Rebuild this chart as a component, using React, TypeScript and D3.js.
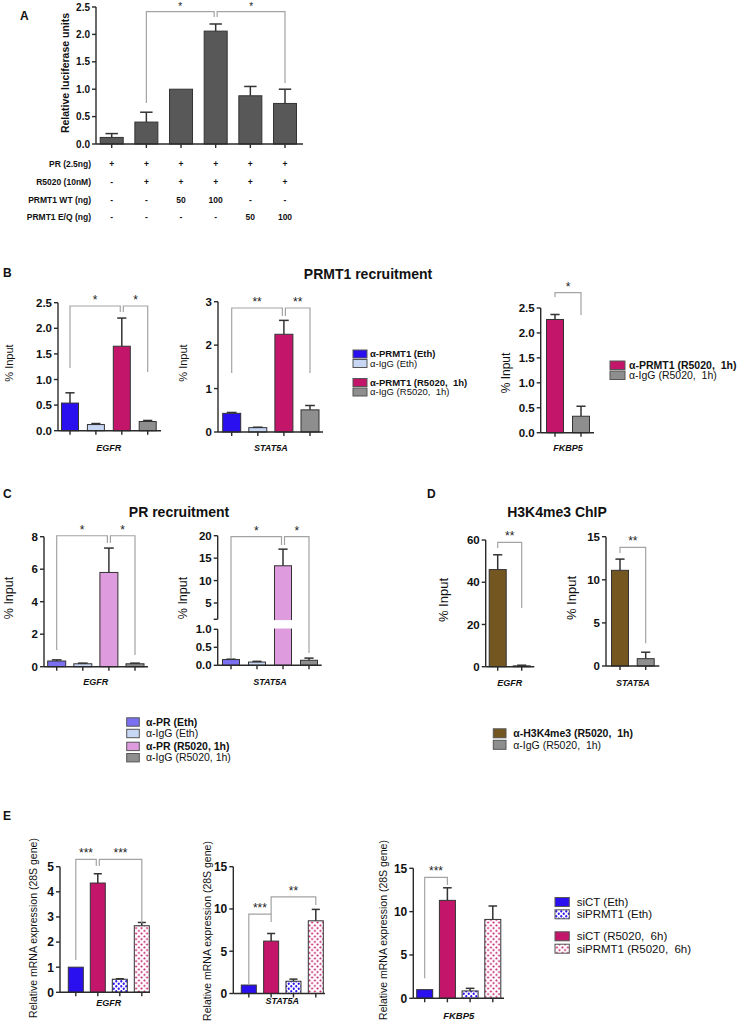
import React from "react";
import * as d3 from "d3";

const FONT = "'Liberation Sans', Arial, Helvetica, sans-serif";

// ---------------- colours ----------------
const BLUE = "#2B10EF";
const LIGHT_BLUE = "#C7D6F3";
const MAGENTA = "#C3166B";
const GRAY = "#8E8E8E";
const PURPLE = "#7B70F1";
const ORCHID = "#DE9BDE";
const BROWN = "#745620";
const DARK = "#585858";

// ---------------- Panel A ----------------
const aValues = [0.12, 0.4, 1.0, 2.06, 0.88, 0.74];
const aErrors = [0.19, 0.58, 1.0, 2.19, 1.05, 1.0];
const aTicks = [0, 0.5, 1, 1.5, 2, 2.5];
const aRowLabels = ["PR (2.5ng)", "R5020 (10nM)", "PRMT1 WT (ng)", "PRMT1 E/Q (ng)"];
const aRowPR = ["+", "+", "+", "+", "+", "+"];
const aRowR5020 = ["-", "+", "+", "+", "+", "+"];
const aRowWT = ["-", "-", "50", "100", "-", "-"];
const aRowEQ = ["-", "-", "-", "-", "50", "100"];
const aBrackets = [
  { a: 1, b: 3, y: 2.414, ya: 0.748, yb: 2.318, label: "*" },
  { a: 3, b: 5, y: 2.414, ya: 2.318, yb: 1.113, label: "*" },
];

// ---------------- Panel B ----------------
const bEgfrValues = [0.54, 0.12, 1.65, 0.18];
const bEgfrErrors = [0.74, 0.14, 2.2, 0.2];
const bEgfrTicks = [0, 0.5, 1, 1.5, 2, 2.5];
const bEgfrBrackets = [
  { a: 0, b: 2, y: 2.436, ya: 1.225, yb: 2.318, label: "*" },
  { a: 2, b: 3, y: 2.436, ya: 2.318, yb: 1.146, label: "*" },
];
const bStatValues = [0.43, 0.1, 2.25, 0.51];
const bStatErrors = [0.45, 0.11, 2.57, 0.61];
const bStatTicks = [0, 1, 2, 3];
const bStatBrackets = [
  { a: 0, b: 2, y: 2.855, ya: 1.358, yb: 2.671, label: "**" },
  { a: 2, b: 3, y: 2.855, ya: 2.671, yb: 1.358, label: "**" },
];
const bFkbValues = [2.27, 0.33];
const bFkbErrors = [2.37, 0.53];
const bFkbTicks = [0, 0.5, 1, 1.5, 2, 2.5];
const bFkbBrackets = [{ a: 0, b: 1, y: 2.807, ya: 2.72, yb: 2.36, label: "*" }];
const bLegend = ["α-PRMT1 (Eth)", "α-IgG (Eth)", "α-PRMT1 (R5020,  1h)", "α-IgG (R5020,  1h)"];
const bLegend2 = ["α-PRMT1 (R5020,  1h)", "α-IgG (R5020,  1h)"];

// ---------------- Panel C ----------------
const cEgfrValues = [0.35, 0.18, 5.8, 0.18];
const cEgfrErrors = [0.42, 0.22, 7.3, 0.22];
const cEgfrTicks = [0, 2, 4, 6, 8];
const cEgfrBrackets = [
  { a: 0, b: 2, y: 8.06, ya: 1.03, yb: 7.61, label: "*" },
  { a: 2, b: 3, y: 8.06, ya: 7.61, yb: 0.72, label: "*" },
];
const cStatValues = [0.16, 0.09, 13.3, 0.14];
const cStatErrors = [0.17, 0.11, 17.0, 0.2];
const cStatUpperTicks = [5, 10, 15, 20];
const cStatLowerTicks = [0, 0.5, 1.0];
const cStatBrackets = [
  { a: 0, b: 2, y: 19.78, ya: 0.2, yb: 17.93, label: "*" },
  { a: 2, b: 3, y: 19.78, ya: 17.93, yb: 0.34, label: "*" },
];
const cLegend = ["α-PR (Eth)", "α-IgG (Eth)", "α-PR (R5020, 1h)", "α-IgG (R5020, 1h)"];

// ---------------- Panel D ----------------
const dEgfrValues = [46, 0.4];
const dEgfrErrors = [53, 0.7];
const dEgfrTicks = [0, 20, 40, 60];
const dEgfrBrackets = [{ a: 0, b: 1, y: 58.9, ya: 56.2, yb: 27.8, label: "**" }];
const dStatValues = [11.1, 0.85];
const dStatErrors = [12.4, 1.6];
const dStatTicks = [0, 5, 10, 15];
const dStatBrackets = [{ a: 0, b: 1, y: 13.77, ya: 13.1, yb: 2.63, label: "**" }];
const dLegend = ["α-H3K4me3 (R5020,  1h)", "α-IgG (R5020,  1h)"];

// ---------------- Panel E ----------------
const eEgfrValues = [1.0, 4.35, 0.52, 2.65];
const eEgfrErrors = [1.0, 4.72, 0.54, 2.78];
const eEgfrTicks = [0, 1, 2, 3, 4, 5];
const eEgfrBrackets = [
  { a: 0, b: 1, y: 5.29, ya: 1.29, yb: 5.03, label: "***" },
  { a: 1, b: 3, y: 5.29, ya: 5.03, yb: 2.76, label: "***" },
];
const eStatValues = [1.0, 6.2, 1.45, 8.6];
const eStatErrors = [1.0, 7.1, 1.7, 9.95];
const eStatTicks = [0, 5, 10, 15];
const eStatBrackets = [
  { a: 0, b: 1, y: 9.4, ya: 1.0, yb: 8.46, label: "***" },
  { a: 1, b: 3, y: 11.42, ya: 9.4, yb: 10.47, label: "**" },
];
const eFkbValues = [1.0, 11.3, 0.85, 9.1];
const eFkbErrors = [1.0, 12.75, 1.15, 10.65];
const eFkbTicks = [0, 5, 10, 15];
const eFkbBrackets = [{ a: 0, b: 1, y: 13.96, ya: 2.31, yb: 13.07, label: "***" }];
const eLegend = ["siCT (Eth)", "siPRMT1 (Eth)", "siCT (R5020,  6h)", "siPRMT1 (R5020,  6h)"];

const ePatBlue = "url(#patBlue)";
const ePatMag = "url(#patMag)";

type Br = { a: number; b: number; y: number; ya: number; yb: number; label: string };

interface PanelProps {
  values: number[];
  errors: number[];
  fills: string[];
  centers: [number, number];
  barW: number;
  axisX: [number, number];
  yDomain: [number, number];
  yRange: [number, number];
  ticks: number[];
  fmt: string;
  tickSize: number;
  brackets: Br[];
  starSize: number;
  category?: string;
  catY?: number;
  catSize?: number;
  ylabel: string;
  ylabelX: number;
  ylabelY: number;
  ylabelSize: number;
  ylabelWeight?: string;
  broken?: {
    lowerDomain: [number, number];
    lowerRange: [number, number];
    lowerTicks: number[];
    lowerFmt: string;
  };
}

const AX = "#2a2a2a";
const BRK = "#a3a3a3";

function Panel(p: PanelProps) {
  const n = p.values.length;
  const x = d3.scalePoint<number>().domain(d3.range(n)).range(p.centers);
  const upper = d3.scaleLinear().domain(p.yDomain).range(p.yRange);
  const lower = p.broken
    ? d3.scaleLinear().domain(p.broken.lowerDomain).range(p.broken.lowerRange)
    : null;
  const y = (v: number) =>
    lower && v <= p.broken!.lowerDomain[1] ? lower(v) : upper(v);
  const y0 = y(0);
  const ax0 = p.axisX[0];
  const fmt = d3.format(p.fmt);
  const TL = 4;

  const shared = (br: Br, idx: number) =>
    p.brackets.some((o) => o !== br && o.y === br.y && (o.a === idx || o.b === idx));

  const renderYAxis = () => {
    if (p.broken && lower) {
      const lf = d3.format(p.broken.lowerFmt);
      return (
        <g>
          <line x1={ax0} x2={ax0} y1={upper.range()[0]} y2={upper.range()[1]} stroke={AX} strokeWidth={1.4} />
          <line x1={ax0 - TL} x2={ax0} y1={upper.range()[0]} y2={upper.range()[0]} stroke={AX} strokeWidth={1.4} />
          {p.ticks.map((t) => (
            <g key={"u" + t}>
              <line x1={ax0 - TL} x2={ax0} y1={upper(t)} y2={upper(t)} stroke={AX} strokeWidth={1.4} />
              <text x={ax0 - TL - 2} y={upper(t)} dy="0.36em" textAnchor="end" fontSize={p.tickSize} fontWeight="bold">
                {fmt(t)}
              </text>
            </g>
          ))}
          <line x1={ax0} x2={ax0} y1={lower.range()[0]} y2={lower.range()[1]} stroke={AX} strokeWidth={1.4} />
          {p.broken.lowerTicks.map((t) => (
            <g key={"l" + t}>
              <line x1={ax0 - TL} x2={ax0} y1={lower(t)} y2={lower(t)} stroke={AX} strokeWidth={1.4} />
              <text x={ax0 - TL - 2} y={lower(t)} dy="0.36em" textAnchor="end" fontSize={p.tickSize} fontWeight="bold">
                {lf(t)}
              </text>
            </g>
          ))}
        </g>
      );
    }
    return (
      <g>
        <line x1={ax0} x2={ax0} y1={y(p.yDomain[0])} y2={y(p.yDomain[1])} stroke={AX} strokeWidth={1.4} />
        {p.ticks.map((t) => (
          <g key={t}>
            <line x1={ax0 - TL} x2={ax0} y1={y(t)} y2={y(t)} stroke={AX} strokeWidth={1.4} />
            <text x={ax0 - TL - 2} y={y(t)} dy="0.36em" textAnchor="end" fontSize={p.tickSize} fontWeight="bold">
              {fmt(t)}
            </text>
          </g>
        ))}
      </g>
    );
  };

  return (
    <g fontFamily={FONT} fill="#111">
      {p.values.map((v, i) => (
        <rect
          key={"b" + i}
          x={x(i)! - p.barW / 2}
          y={y(v)}
          width={p.barW}
          height={y0 - y(v)}
          fill={p.fills[i]}
          stroke="#333"
          strokeWidth={1}
        />
      ))}
      {p.broken && lower &&
        p.values.map((v, i) =>
          v > p.broken!.lowerDomain[1] ? (
            <rect
              key={"g" + i}
              x={x(i)! - p.barW / 2 - 1}
              y={upper.range()[0] + 0.8}
              width={p.barW + 2}
              height={lower.range()[1] - upper.range()[0] - 1.6}
              fill="#fff"
            />
          ) : null
        )}
      {p.values.map((v, i) =>
        p.errors[i] > v ? (
          <g key={"e" + i} stroke="#333" strokeWidth={1.5}>
            <line x1={x(i)} x2={x(i)} y1={y(v)} y2={y(p.errors[i])} />
            <line
              x1={x(i)! - p.barW * 0.27}
              x2={x(i)! + p.barW * 0.27}
              y1={y(p.errors[i])}
              y2={y(p.errors[i])}
            />
          </g>
        ) : null
      )}
      {renderYAxis()}
      <line x1={ax0} x2={p.axisX[1]} y1={y0} y2={y0} stroke={AX} strokeWidth={1.4} />
      {p.values.map((_, i) => (
        <line key={"xt" + i} x1={x(i)} x2={x(i)} y1={y0} y2={y0 + TL} stroke={AX} strokeWidth={1.4} />
      ))}
      {p.brackets.map((br, k) => {
        const xa = x(br.a)! + (shared(br, br.a) ? 1.5 : 0);
        const xb = x(br.b)! - (shared(br, br.b) ? 1.5 : 0);
        const yb = y(br.y);
        return (
          <g key={"br" + k}>
            <path
              d={`M${xa},${y(br.ya)}V${yb}H${xb}V${y(br.yb)}`}
              fill="none"
              stroke={BRK}
              strokeWidth={1.2}
            />
            <text x={(xa + xb) / 2} y={yb - 2} textAnchor="middle" fontSize={p.starSize} fill="#222">
              {br.label}
            </text>
          </g>
        );
      })}
      {p.category && (
        <text
          x={(p.centers[0] + p.centers[1]) / 2}
          y={p.catY}
          textAnchor="middle"
          fontSize={p.catSize ?? 9}
          fontWeight="bold"
          fontStyle="italic"
        >
          {p.category}
        </text>
      )}
      <text
        transform={`translate(${p.ylabelX},${p.ylabelY}) rotate(-90)`}
        textAnchor="middle"
        fontSize={p.ylabelSize}
        fontWeight={p.ylabelWeight ?? "normal"}
      >
        {p.ylabel}
      </text>
    </g>
  );
}

interface LegendProps {
  labels: string[];
  fills: string[];
  bold: boolean[];
  sx: number;
  sw: number;
  sh: number;
  tops: number[];
  tx: number;
  size: number;
}

function Legend(p: LegendProps) {
  return (
    <g fontFamily={FONT}>
      {p.labels.map((l, i) => (
        <g key={i}>
          <rect x={p.sx} y={p.tops[i]} width={p.sw} height={p.sh} fill={p.fills[i]} stroke="#555" strokeWidth={1} />
          <text
            x={p.tx}
            y={p.tops[i] + p.sh / 2}
            dy="0.36em"
            fontSize={p.size}
            fontWeight={p.bold[i] ? "bold" : "normal"}
            fill="#111"
            style={{ whiteSpace: "pre" }}
          >
            {l}
          </text>
        </g>
      ))}
    </g>
  );
}

export default function App() {
  const aX = d3.scalePoint<number>().domain(d3.range(aValues.length)).range([111.7, 285]);
  const aRows = [aRowPR, aRowR5020, aRowWT, aRowEQ];
  const aRowY = [167, 185, 203, 220];
  const fillsB = [BLUE, LIGHT_BLUE, MAGENTA, GRAY];
  const fillsC = [PURPLE, LIGHT_BLUE, ORCHID, GRAY];
  const fillsE = [BLUE, MAGENTA, ePatBlue, ePatMag];
  return (
    <svg
      width={747}
      height={1029}
      style={{ position: "absolute", left: 0, top: 0, display: "block", background: "#fff" }}
      fontFamily={FONT}
    >
      <defs>
        <pattern id="patBlue" width="5" height="5" patternUnits="userSpaceOnUse">
          <rect width="5" height="5" fill="#fff" />
          <path d="M1.25,0.1V2.4M0.1,1.25H2.4M3.75,2.6V4.9M2.6,3.75H4.9" stroke={BLUE} strokeWidth={1.2} />
        </pattern>
        <pattern id="patMag" width="5.5" height="5.5" patternUnits="userSpaceOnUse">
          <rect width="5.5" height="5.5" fill="#fff" />
          <path d="M1.4,0.4V2.4M0.4,1.4H2.4M4.1,3.1V5.1M3.1,4.1H5.1" stroke={MAGENTA} strokeWidth={1.1} />
        </pattern>
      </defs>
      <rect width={747} height={1029} fill="#fff" />

      <g fontWeight="bold" fontSize={12} fill="#111">
        <text x={20} y={20}>A</text>
        <text x={3} y={277}>B</text>
        <text x={3} y={498}>C</text>
        <text x={427} y={498}>D</text>
        <text x={3} y={820}>E</text>
      </g>
      <g fontWeight="bold" fontSize={14} fill="#111" textAnchor="middle">
        <text x={368} y={279}>PRMT1 recruitment</text>
        <text x={179} y={517}>PR recruitment</text>
        <text x={557} y={517}>H3K4me3 ChIP</text>
      </g>

      {/* ---- A ---- */}
      <Panel
        values={aValues}
        errors={aErrors}
        fills={aValues.map(() => DARK)}
        centers={[111.7, 285]}
        barW={23}
        axisX={[96, 303]}
        yDomain={[0, 2.5]}
        yRange={[144, 7]}
        ticks={aTicks}
        fmt=".1f"
        tickSize={10}
        brackets={aBrackets}
        starSize={10}
        ylabel="Relative luciferase units"
        ylabelX={69}
        ylabelY={73}
        ylabelSize={10.5}
        ylabelWeight="bold"
      />
      <g fontSize={8.5} fontWeight="bold" fill="#111">
        {aRowLabels.map((l, r) => (
          <text key={l} x={91} y={aRowY[r]} textAnchor="end">{l}</text>
        ))}
        {aRows.map((row, r) =>
          row.map((s, i) => (
            <text key={r + "-" + i} x={aX(i)} y={aRowY[r]} textAnchor="middle">{s}</text>
          ))
        )}
      </g>

      {/* ---- B ---- */}
      <Panel
        values={bEgfrValues}
        errors={bEgfrErrors}
        fills={fillsB}
        centers={[70, 147.7]}
        barW={17}
        axisX={[58, 161]}
        yDomain={[0, 2.5]}
        yRange={[430.7, 302.7]}
        ticks={bEgfrTicks}
        fmt=".1f"
        tickSize={11.5}
        brackets={bEgfrBrackets}
        starSize={12}
        category="EGFR"
        catY={450.5}
        ylabel="% Input"
        ylabelX={13}
        ylabelY={363}
        ylabelSize={11}
      />
      <Panel
        values={bStatValues}
        errors={bStatErrors}
        fills={fillsB}
        centers={[231.7, 310]}
        barW={18}
        axisX={[218, 323]}
        yDomain={[0, 3]}
        yRange={[432, 301.7]}
        ticks={bStatTicks}
        fmt="d"
        tickSize={11.5}
        brackets={bStatBrackets}
        starSize={12}
        category="STAT5A"
        catY={450.5}
        ylabel="% Input"
        ylabelX={187}
        ylabelY={363}
        ylabelSize={11}
      />
      <Legend
        labels={bLegend}
        fills={fillsB}
        bold={[true, false, true, false]}
        sx={353}
        sw={14}
        sh={8}
        tops={[350, 359.5, 378.5, 388]}
        tx={370}
        size={9.5}
      />
      <Panel
        values={bFkbValues}
        errors={bFkbErrors}
        fills={[MAGENTA, GRAY]}
        centers={[555, 581]}
        barW={17}
        axisX={[540.7, 594]}
        yDomain={[0, 2.5]}
        yRange={[432.7, 308]}
        ticks={bFkbTicks}
        fmt=".1f"
        tickSize={11.5}
        brackets={bFkbBrackets}
        starSize={12}
        category="FKBP5"
        catY={450.5}
        ylabel="% Input"
        ylabelX={510}
        ylabelY={373}
        ylabelSize={12}
      />
      <Legend
        labels={bLegend2}
        fills={[MAGENTA, GRAY]}
        bold={[true, false]}
        sx={610}
        sw={15}
        sh={8.5}
        tops={[361, 371]}
        tx={629}
        size={10.5}
      />

      {/* ---- C ---- */}
      <Panel
        values={cEgfrValues}
        errors={cEgfrErrors}
        fills={fillsC}
        centers={[56.7, 135]}
        barW={18}
        axisX={[44, 148]}
        yDomain={[0, 8]}
        yRange={[666.7, 536.7]}
        ticks={cEgfrTicks}
        fmt="d"
        tickSize={11.5}
        brackets={cEgfrBrackets}
        starSize={12}
        category="EGFR"
        catY={685}
        ylabel="% Input"
        ylabelX={12.5}
        ylabelY={598}
        ylabelSize={12.5}
      />
      <Panel
        values={cStatValues}
        errors={cStatErrors}
        fills={fillsC}
        centers={[231, 309]}
        barW={17}
        axisX={[217.7, 321.7]}
        yDomain={[1.37, 20]}
        yRange={[619.3, 535.7]}
        ticks={cStatUpperTicks}
        fmt="d"
        tickSize={11.5}
        brackets={cStatBrackets}
        starSize={12}
        category="STAT5A"
        catY={685}
        ylabel="% Input"
        ylabelX={187}
        ylabelY={598}
        ylabelSize={12.5}
        broken={{ lowerDomain: [0, 1], lowerRange: [665.3, 629.3], lowerTicks: cStatLowerTicks, lowerFmt: ".1f" }}
      />
      <Legend
        labels={cLegend}
        fills={fillsC}
        bold={[true, false, true, false]}
        sx={126.7}
        sw={12.6}
        sh={8.4}
        tops={[717.8, 729.3, 742.2, 753.5]}
        tx={146}
        size={10.5}
      />

      {/* ---- D ---- */}
      <Panel
        values={dEgfrValues}
        errors={dEgfrErrors}
        fills={[BROWN, GRAY]}
        centers={[497.7, 521.7]}
        barW={17}
        axisX={[485.7, 534.3]}
        yDomain={[0, 60]}
        yRange={[666.7, 540]}
        ticks={dEgfrTicks}
        fmt="d"
        tickSize={11.5}
        brackets={dEgfrBrackets}
        starSize={12}
        category="EGFR"
        catY={686}
        ylabel="% Input"
        ylabelX={447.5}
        ylabelY={600}
        ylabelSize={13}
      />
      <Panel
        values={dStatValues}
        errors={dStatErrors}
        fills={[BROWN, GRAY]}
        centers={[620, 645.7]}
        barW={17}
        axisX={[606, 659.3]}
        yDomain={[0, 15]}
        yRange={[666, 536.7]}
        ticks={dStatTicks}
        fmt="d"
        tickSize={11.5}
        brackets={dStatBrackets}
        starSize={12}
        category="STAT5A"
        catY={686}
        ylabel="% Input"
        ylabelX={576}
        ylabelY={598}
        ylabelSize={13}
      />
      <Legend
        labels={dLegend}
        fills={[BROWN, GRAY]}
        bold={[true, false]}
        sx={493.3}
        sw={12.7}
        sh={9}
        tops={[728.8, 740.3]}
        tx={513.3}
        size={10.5}
      />

      {/* ---- E ---- */}
      <Panel
        values={eEgfrValues}
        errors={eEgfrErrors}
        fills={fillsE}
        centers={[75.8, 141.8]}
        barW={15}
        axisX={[60, 150]}
        yDomain={[0, 5]}
        yRange={[992.3, 866.7]}
        ticks={eEgfrTicks}
        fmt="d"
        tickSize={12}
        brackets={eEgfrBrackets}
        starSize={12}
        category="EGFR"
        catY={1006}
        catSize={9}
        ylabel="Relative mRNA expression (28S gene)"
        ylabelX={37}
        ylabelY={928}
        ylabelSize={10.5}
      />
      <Panel
        values={eStatValues}
        errors={eStatErrors}
        fills={fillsE}
        centers={[248.8, 315.8]}
        barW={15}
        axisX={[233.3, 325]}
        yDomain={[0, 15]}
        yRange={[993.5, 866.7]}
        ticks={eStatTicks}
        fmt="d"
        tickSize={12}
        brackets={eStatBrackets}
        starSize={12}
        category="STAT5A"
        catY={1004}
        catSize={9}
        ylabel="Relative mRNA expression (28S gene)"
        ylabelX={210.5}
        ylabelY={931}
        ylabelSize={10.5}
      />
      <Panel
        values={eFkbValues}
        errors={eFkbErrors}
        fills={fillsE}
        centers={[424.7, 492.8]}
        barW={16}
        axisX={[413.3, 504]}
        yDomain={[0, 15]}
        yRange={[998.3, 868.3]}
        ticks={eFkbTicks}
        fmt="d"
        tickSize={12}
        brackets={eFkbBrackets}
        starSize={12}
        category="FKBP5"
        catY={1019}
        catSize={9.5}
        ylabel="Relative mRNA expression (28S gene)"
        ylabelX={387}
        ylabelY={930}
        ylabelSize={10.5}
      />
      <Legend
        labels={eLegend}
        fills={[BLUE, ePatBlue, MAGENTA, ePatMag]}
        bold={[false, false, false, false]}
        sx={555}
        sw={14.3}
        sh={9}
        tops={[897.5, 909.8, 931.8, 944.2]}
        tx={576.7}
        size={11.5}
      />
    </svg>
  );
}
